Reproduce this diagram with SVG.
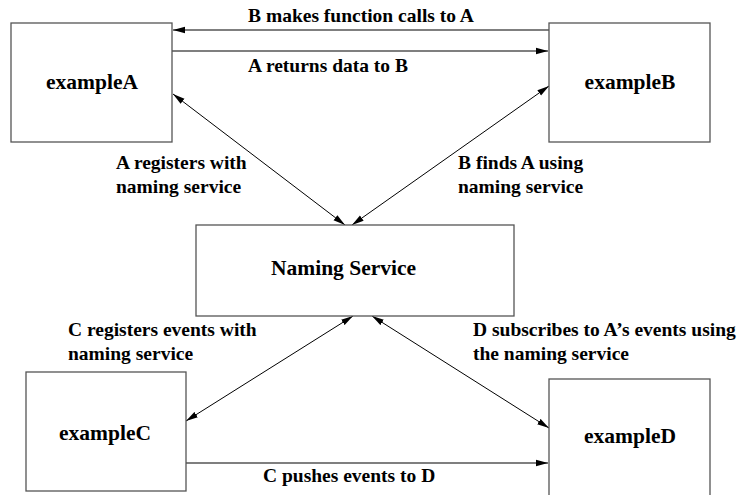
<svg xmlns="http://www.w3.org/2000/svg" width="740" height="495" viewBox="0 0 740 495">
  <style>
    .box { fill: #ffffff; stroke: #555555; stroke-width: 1.3; }
    .name { font-family: "Liberation Serif", "Times New Roman", serif; font-weight: bold; font-size: 21.5px; fill: #000000; }
    .lbl { font-family: "Liberation Serif", "Times New Roman", serif; font-weight: bold; font-size: 19.5px; fill: #000000; }
    .h { fill: none; stroke: #555555; stroke-width: 1.3; }
    .d { fill: none; stroke: #000000; stroke-width: 1; }
  </style>
  <defs>
    <marker id="ah" markerUnits="userSpaceOnUse" markerWidth="14" markerHeight="8" refX="12" refY="4" orient="auto-start-reverse">
      <path d="M0,0.8 L12,4 L0,7.2 z" fill="#000000"/>
    </marker>
  </defs>
  <rect width="740" height="495" fill="#ffffff"/>

  <g id="connectors">
    <line class="h" x1="549" y1="30" x2="173" y2="30" marker-end="url(#ah)"/>
    <line class="h" x1="172" y1="51" x2="548" y2="51" marker-end="url(#ah)"/>
    <line class="d" x1="173" y1="94" x2="345" y2="225" marker-start="url(#ah)" marker-end="url(#ah)"/>
    <line class="d" x1="549" y1="86" x2="352" y2="225" marker-start="url(#ah)" marker-end="url(#ah)"/>
    <line class="d" x1="186" y1="421" x2="353" y2="316" marker-start="url(#ah)" marker-end="url(#ah)"/>
    <line class="d" x1="372" y1="316" x2="549" y2="428" marker-start="url(#ah)" marker-end="url(#ah)"/>
    <line class="h" x1="186" y1="463" x2="548" y2="463" marker-end="url(#ah)"/>
    <text class="lbl" x="248" y="22">B makes function calls to A</text>
    <text class="lbl" x="248" y="72">A returns data to B</text>
    <text class="lbl" x="116" y="169">A registers with</text>
    <text class="lbl" x="116" y="193">naming service</text>
    <text class="lbl" x="458" y="169">B finds A using</text>
    <text class="lbl" x="458" y="193">naming service</text>
    <text class="lbl" x="68" y="336">C registers events with</text>
    <text class="lbl" x="68" y="360">naming service</text>
    <text class="lbl" x="473" y="336">D subscribes to A’s events using</text>
    <text class="lbl" x="473" y="360">the naming service</text>
    <text class="lbl" x="263" y="482">C pushes events to D</text>
  </g>

  <g id="exampleA">
    <rect class="box" x="11" y="23" width="161" height="119"/>
    <text class="name" x="92" y="89" text-anchor="middle">exampleA</text>
  </g>
  <g id="exampleB">
    <rect class="box" x="549" y="23" width="161" height="119"/>
    <text class="name" x="630" y="89" text-anchor="middle">exampleB</text>
  </g>
  <g id="namingService">
    <rect class="box" x="196" y="225" width="318" height="91"/>
    <text class="name" x="271" y="275">Naming Service</text>
  </g>
  <g id="exampleC">
    <rect class="box" x="26" y="372" width="160" height="119"/>
    <text class="name" x="105" y="440" text-anchor="middle">exampleC</text>
  </g>
  <g id="exampleD">
    <rect class="box" x="549" y="379" width="161" height="125"/>
    <text class="name" x="630" y="443" text-anchor="middle">exampleD</text>
  </g>
</svg>
